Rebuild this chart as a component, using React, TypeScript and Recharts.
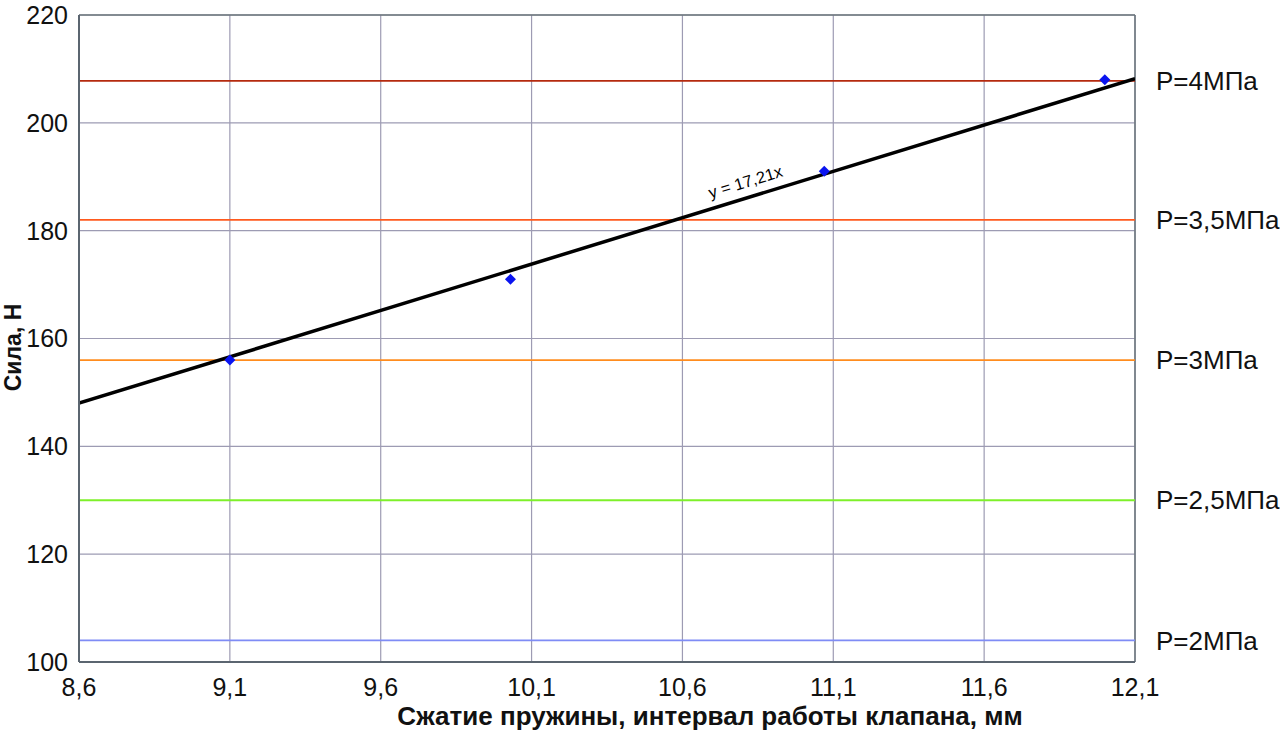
import React from "react";
import {
  ComposedChart,
  CartesianGrid,
  Line,
  ReferenceDot,
  ReferenceLine,
  Scatter,
  XAxis,
  YAxis,
} from "recharts";

const xTicks = [8.6, 9.1, 9.6, 10.1, 10.6, 11.1, 11.6, 12.1];
const yTicks = [100, 120, 140, 160, 180, 200, 220];

// measured points
const pointX = [9.1, 10.03, 11.07, 12.0];
const pointY = [156, 171, 191, 208];

// trend line endpoints (y = 17,21x)
const trendX = [8.6, 12.1];
const trendY = [148.0, 208.2];

// pressure levels
const pressureLabels = ["P=4МПа", "P=3,5МПа", "P=3МПа", "P=2,5МПа", "P=2МПа"];
const pressureForce = [207.8, 182.0, 156.0, 130.0, 104.0];
const pressureColors = ["#b52a0e", "#ff5a1e", "#ff8c1e", "#7ef02a", "#7f8cf5"];

const FONT = "'Liberation Sans', Arial, sans-serif";

const points = pointX.map((x, i) => ({ x, y: pointY[i] }));
const trend = trendX.map((x, i) => ({ x, y: trendY[i] }));

const Diamond = (props: any) => {
  const { cx, cy } = props;
  if (cx == null || cy == null) return null;
  const r = 5.5;
  return (
    <path
      d={`M${cx},${cy - r} L${cx + r},${cy} L${cx},${cy + r} L${cx - r},${cy} Z`}
      fill="#0a14f0"
    />
  );
};

const EquationLabel = (props: any) => {
  const { viewBox } = props;
  const cx = viewBox.x + (viewBox.width || 0) / 2;
  const cy = viewBox.y + (viewBox.height || 0) / 2;
  return (
    <text
      x={cx}
      y={cy}
      transform={`rotate(-17 ${cx} ${cy})`}
      textAnchor="middle"
      dominantBaseline="middle"
      fontFamily={FONT}
      fontSize={16.5}
      fill="#000"
    >
      y = 17,21x
    </text>
  );
};

const XTitle = (props: any) => {
  const { viewBox } = props;
  const cx = viewBox.x + viewBox.width / 2 + 103;
  return (
    <text
      x={cx}
      y={viewBox.y + viewBox.height - 5}
      textAnchor="middle"
      fontFamily={FONT}
      fontSize={26}
      fontWeight="bold"
      fill="#111"
    >
      Сжатие пружины, интервал работы клапана, мм
    </text>
  );
};

const YTitle = (props: any) => {
  const { viewBox } = props;
  const x = viewBox.x + 13;
  const y = viewBox.y + viewBox.height / 2 + 9;
  return (
    <text
      x={x}
      y={y}
      transform={`rotate(-90 ${x} ${y})`}
      textAnchor="middle"
      dominantBaseline="central"
      fontFamily={FONT}
      fontSize={23}
      fontWeight="bold"
      fill="#111"
    >
      Сила, Н
    </text>
  );
};

export default function App() {
  return (
    <div style={{ position: "absolute", left: 0, top: 0, background: "#fff" }}>
      <ComposedChart
        width={1280}
        height={730}
        margin={{ top: 15, right: 145, bottom: 0, left: 0 }}
        style={{ fontFamily: FONT }}
      >
        <CartesianGrid stroke="#9d9bb3" strokeWidth={1.2} />
        <XAxis
          type="number"
          dataKey="x"
          domain={[8.6, 12.1]}
          ticks={xTicks}
          allowDataOverflow
          height={68}
          tickLine={false}
          axisLine={{ stroke: "#5b6570", strokeWidth: 2 }}
          tick={{ fontSize: 25, fill: "#111", fontFamily: FONT }}
          tickFormatter={(v) => String(v).replace(".", ",")}
          tickMargin={10}
          label={<XTitle />}
        />
        <YAxis
          type="number"
          dataKey="y"
          domain={[100, 220]}
          ticks={yTicks}
          allowDataOverflow
          width={79}
          tickLine={false}
          axisLine={{ stroke: "#5b6570", strokeWidth: 2 }}
          tick={{ fontSize: 25, fill: "#111", fontFamily: FONT }}
          tickMargin={5}
          label={<YTitle />}
        />
        <ReferenceLine y={220} stroke="#6a747a" strokeWidth={1.5} />
        <ReferenceLine x={12.1} stroke="#6a747a" strokeWidth={1.5} />
        {pressureForce.map((f, i) => (
          <ReferenceLine
            key={pressureLabels[i]}
            y={f}
            stroke={pressureColors[i]}
            strokeWidth={1.8}
            label={{
              value: pressureLabels[i],
              position: "right",
              offset: 21,
              fontSize: 26,
              fill: "#111",
              fontFamily: FONT,
            }}
          />
        ))}
        <Line
          data={trend}
          dataKey="y"
          type="linear"
          stroke="#000"
          strokeWidth={3.5}
          dot={false}
          activeDot={false}
          isAnimationActive={false}
        />
        <Scatter data={points} dataKey="y" shape={<Diamond />} isAnimationActive={false} />
        <ReferenceDot
          x={10.81}
          y={188.8}
          r={0}
          fill="none"
          stroke="none"
          label={<EquationLabel />}
        />
      </ComposedChart>
    </div>
  );
}
